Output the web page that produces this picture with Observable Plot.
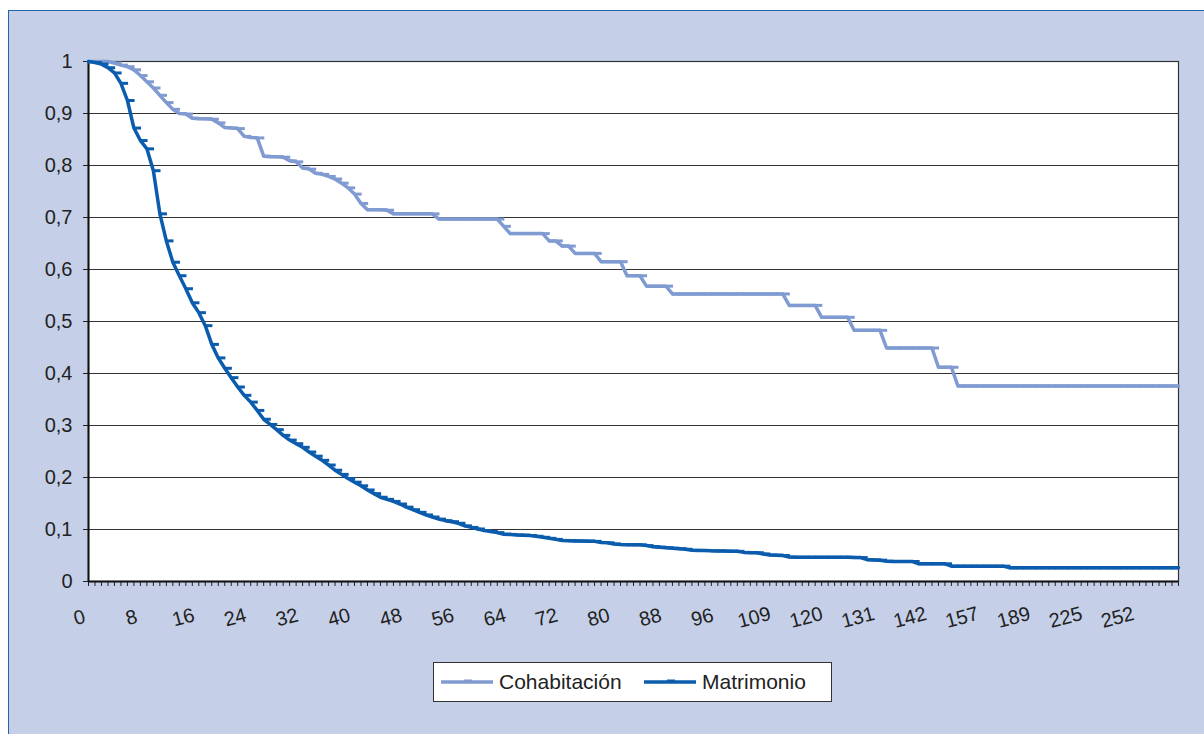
<!DOCTYPE html>
<html>
<head>
<meta charset="utf-8">
<script src="https://cdn.jsdelivr.net/npm/d3@7"></script>
<script src="https://cdn.jsdelivr.net/npm/@observablehq/plot@0.6"></script>
<style>
  body { margin: 0; background: #ffffff; font-family: "Liberation Sans", Arial, sans-serif; overflow: hidden; }
  #bg { position: absolute; left: 8px; top: 10px; width: 1210px; height: 740px; background: #c5d0e8;
        border-left: 1.5px solid #2463b3; border-top: 1.5px solid #2463b3; }
  #chart { position: absolute; left: 0; top: 0; }
  #legend { position: absolute; left: 433px; top: 662px; width: 397px; height: 38px; background: #fff;
            border: 1.5px solid #333; box-sizing: content-box; font-size: 21px; color: #222; }
  .item { position: absolute; top: 0; height: 38px; display: flex; align-items: center; }
  .item svg { margin-right: 5px; }
</style>
</head>
<body>
<div id="bg"></div>
<div id="chart"></div>
<div id="legend"></div>
<script>
// Category tick labels (every 8th category)
const xTickLabels = ["0","8","16","24","32","40","48","56","64","72","80","88","96","109","120","131","142","157","189","225","252"];
const yTicks = [0, 0.1, 0.2, 0.3, 0.4, 0.5, 0.6, 0.7, 0.8, 0.9, 1];
const seriesNames = ["Cohabitación", "Matrimonio"];
const seriesColors = ["#809bd1", "#0b5cad"];

// Survival values, one per category (169 categories)
const cohabitacion = [
  1, 1, 1, 1, 0.997, 0.993, 0.99, 0.984, 0.973, 0.961,
  0.949, 0.935, 0.921, 0.908, 0.900, 0.899, 0.891, 0.890, 0.890, 0.889,
  0.882, 0.873, 0.872, 0.871, 0.856, 0.854, 0.853, 0.818, 0.817, 0.817,
  0.816, 0.809, 0.807, 0.795, 0.793, 0.785, 0.783, 0.779, 0.774, 0.766,
  0.757, 0.745, 0.727, 0.715, 0.715, 0.715, 0.714,
  0.707, 0.707, 0.707, 0.707, 0.707, 0.707, 0.707,
  0.697, 0.697, 0.697, 0.697, 0.697, 0.697, 0.697, 0.697, 0.697, 0.697,
  0.683,
  0.669, 0.669, 0.669, 0.669, 0.669, 0.669,
  0.655, 0.655,
  0.645, 0.645,
  0.631, 0.631, 0.631, 0.631,
  0.615, 0.615, 0.615, 0.615,
  0.588, 0.588, 0.588,
  0.568, 0.568, 0.568, 0.568,
  0.553, 0.553, 0.553, 0.553, 0.553, 0.553, 0.553, 0.553, 0.553, 0.553,
  0.553, 0.553, 0.553, 0.553, 0.553, 0.553, 0.553, 0.553,
  0.531, 0.531, 0.531, 0.531, 0.531,
  0.508, 0.508, 0.508, 0.508, 0.508,
  0.483, 0.483, 0.483, 0.483, 0.483,
  0.449, 0.449, 0.449, 0.449, 0.449, 0.449, 0.449, 0.449,
  0.412, 0.412, 0.412,
  0.376, 0.376, 0.376, 0.376, 0.376, 0.376, 0.376, 0.376, 0.376, 0.376,
  0.376, 0.376, 0.376, 0.376, 0.376, 0.376, 0.376, 0.376, 0.376, 0.376,
  0.376, 0.376, 0.376, 0.376, 0.376, 0.376, 0.376, 0.376, 0.376, 0.376,
  0.376, 0.376, 0.376, 0.376, 0.376
];

const matrimonio = [
  1, 0.998, 0.995, 0.988, 0.978, 0.958, 0.925, 0.872, 0.848, 0.832,
  0.79, 0.707, 0.655, 0.614, 0.588, 0.563, 0.536, 0.517, 0.492, 0.456,
  0.43, 0.41, 0.392, 0.374, 0.358, 0.345, 0.329, 0.312, 0.302, 0.292,
  0.281, 0.272, 0.265, 0.258, 0.249, 0.241, 0.233, 0.224, 0.214, 0.206,
  0.198, 0.191, 0.184, 0.176, 0.169, 0.162, 0.158, 0.154, 0.149, 0.143,
  0.138, 0.133, 0.128, 0.124, 0.12, 0.117, 0.115, 0.112, 0.107, 0.104,
  0.101, 0.098, 0.096, 0.094, 0.091, 0.0905, 0.0895, 0.089, 0.0885, 0.087,
  0.085, 0.083, 0.081, 0.079, 0.0785, 0.078, 0.0778, 0.0776, 0.0772, 0.075,
  0.0744, 0.072, 0.071, 0.0708, 0.0706, 0.0705, 0.069, 0.067, 0.066, 0.065,
  0.064, 0.063, 0.062, 0.06, 0.0598, 0.0595, 0.059, 0.0588, 0.0585, 0.0582,
  0.058, 0.056, 0.0555, 0.0553, 0.053, 0.051, 0.0505, 0.05, 0.047,
  0.0465, 0.0465, 0.0465, 0.0465, 0.0465, 0.0465, 0.0465, 0.0465, 0.0465,
  0.046, 0.046,
  0.042, 0.0415, 0.041,
  0.039,
  0.0385, 0.0385, 0.0385, 0.0385,
  0.034, 0.034, 0.034, 0.034, 0.034,
  0.0295, 0.0295, 0.0295, 0.0295, 0.0295, 0.0295, 0.0295, 0.0295, 0.0295,
  0.0263, 0.0263, 0.0263, 0.0263, 0.0263, 0.0263, 0.0263, 0.0263, 0.0263, 0.0263,
  0.0263, 0.0263, 0.0263, 0.0263, 0.0263, 0.0263, 0.0263, 0.0263, 0.0263, 0.0263,
  0.0263, 0.0263, 0.0263, 0.0263, 0.0263, 0.0263, 0.0263
];

const N = cohabitacion.length;
const idx = d3.range(N);
const rows = [];
[cohabitacion, matrimonio].forEach((arr, s) => arr.forEach((v, i) => rows.push({i, v, s: seriesNames[s]})));

const fmt = d => d === 0 ? "0" : d === 1 ? "1" : d.toFixed(1).replace(".", ",");
const font = "'Liberation Sans', Arial, sans-serif";

const chart = Plot.plot({
  width: 1204,
  height: 650,
  marginLeft: 88,
  marginRight: 26,
  marginTop: 61,
  marginBottom: 69,
  x: {domain: [0, N - 1]},
  y: {domain: [0, 1]},
  color: {domain: seriesNames, range: seriesColors},
  style: {background: "transparent", fontFamily: font, fontSize: "20px", color: "#222", overflow: "visible"},
  marks: [
    Plot.frame({fill: "white"}),
    Plot.gridY(yTicks, {stroke: "#333", strokeOpacity: 1, strokeWidth: 1.2}),
    Plot.frame({stroke: "#333", strokeWidth: 1.2}),
    Plot.axisY(yTicks, {tickSize: 5, tickPadding: 11, tickFormat: fmt, fontSize: 20, fill: "#222", stroke: "#222", label: null}),
    Plot.axisX(idx, {tickSize: 5, tickPadding: 2, tickFormat: () => "", stroke: "#222", label: null}),
    Plot.ruleX([0], {stroke: "#111", strokeWidth: 2}),
    Plot.ruleY([0], {stroke: "#111", strokeWidth: 2}),
    Plot.text(xTickLabels, {x: (d, i) => i * 8, frameAnchor: "bottom", dy: 36, dx: -9, rotate: -15,
      fontSize: 20, fill: "#222", textAnchor: "middle", lineAnchor: "middle"}),
    Plot.line(rows.filter(d => d.s === seriesNames[0]), {x: "i", y: "v", stroke: "s", strokeWidth: 3.5, strokeLinejoin: "round"}),
    Plot.link(rows.filter(d => d.s === seriesNames[0]), {x1: d => d.i - 0.1, x2: d => d.i + 1.1, y1: "v", y2: "v", stroke: "s", strokeWidth: 3, clip: true}),
    Plot.line(rows.filter(d => d.s === seriesNames[1]), {x: "i", y: "v", stroke: "s", strokeWidth: 3.5, strokeLinejoin: "round"}),
    Plot.link(rows.filter(d => d.s === seriesNames[1]), {x1: d => d.i - 0.1, x2: d => d.i + 1.1, y1: "v", y2: "v", stroke: "s", strokeWidth: 3, clip: true})
  ]
});
document.getElementById("chart").appendChild(chart);

// Legend
const legend = document.getElementById("legend");
const positions = [6, 209];
seriesNames.forEach((name, k) => {
  const item = document.createElement("div");
  item.className = "item";
  item.style.left = positions[k] + "px";
  item.innerHTML = `<svg width="54" height="10"><line x1="1" y1="5" x2="53" y2="5" stroke="${seriesColors[k]}" stroke-width="3.5"/><line x1="24" y1="4" x2="32" y2="4" stroke="${seriesColors[k]}" stroke-width="3"/></svg><span>${name}</span>`;
  legend.appendChild(item);
});
</script>
</body>
</html>
